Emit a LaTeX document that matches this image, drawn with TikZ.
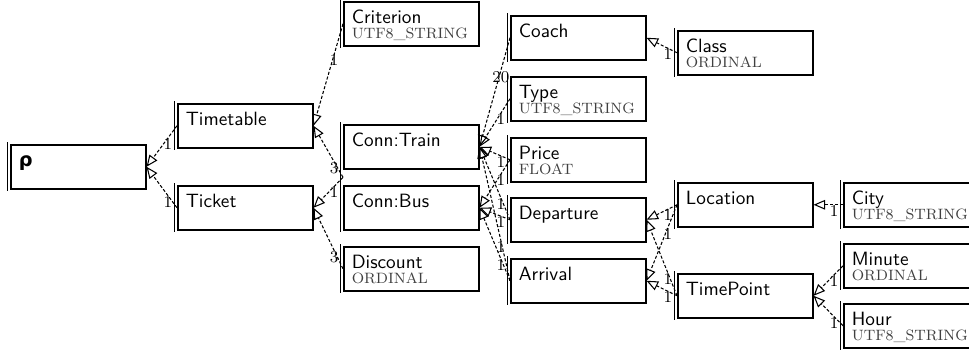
\documentclass[tikz,border=0pt]{standalone}
\usepackage{fontspec}
\newfontfamily\greekfont{DejaVu Sans}
\usetikzlibrary{arrows.meta, calc}

\definecolor{kindgray}{gray}{0.25}
\newcommand{\kind}[1]{\par\vskip-1.7pt{\fontsize{7.8}{9.5}\selectfont\rmfamily\color{kindgray}#1\par}}
\newcommand{\ent}[1]{\hspace*{4.2pt}\vbox to 22.88pt{\hsize=66pt\parindent=0pt\vskip3.04pt\strut#1\par\vfil}}

\begin{document}
\begin{tikzpicture}[x=0.52pt, y=-0.52pt,
        box/.style={draw, line width=0.8pt, inner sep=0pt, anchor=north west, font=\sffamily},
        bar/.style={line width=0.8pt},
        link/.style={line width=0.55pt, dash pattern=on 1.6pt off 1pt,
            -{Triangle[open, length=6pt, width=5pt]}},
        card/.style={pos=0.3, below, inner sep=0pt, font=\fontsize{8.6}{10}\selectfont}]
    \useasboundingbox (0,0) rectangle (969,355);

    \node[box] (rho)       at (10,144)  {\ent{{\greekfont\bfseries ρ}}};
    \node[box] (timetable) at (177,103) {\ent{Timetable}};
    \node[box] (ticket)    at (177,185) {\ent{Ticket}};
    \node[box] (criterion) at (343,1)   {\ent{Criterion\kind{UTF8\_STRING}}};
    \node[box] (train)     at (343,124) {\ent{Conn:Train}};
    \node[box] (bus)       at (343,185) {\ent{Conn:Bus}};
    \node[box] (discount)  at (343,246) {\ent{Discount\kind{ORDINAL}}};
    \node[box] (coach)     at (510,15)  {\ent{Coach}};
    \node[box] (type)      at (510,76)  {\ent{Type\kind{UTF8\_STRING}}};
    \node[box] (price)     at (510,137) {\ent{Price\kind{FLOAT}}};
    \node[box] (departure) at (510,197) {\ent{Departure}};
    \node[box] (arrival)   at (510,258) {\ent{Arrival}};
    \node[box] (class)     at (677,30)  {\ent{Class\kind{ORDINAL}}};
    \node[box] (location)  at (677,182) {\ent{Location}};
    \node[box] (timepoint) at (677,273) {\ent{TimePoint}};
    \node[box] (city)      at (843,182) {\ent{City\kind{UTF8\_STRING}}};
    \node[box] (minute)    at (843,243) {\ent{Minute\kind{ORDINAL}}};
    \node[box] (hour)      at (843,303) {\ent{Hour\kind{UTF8\_STRING}}};

    \foreach \n in {rho, timetable, ticket, criterion, discount, coach, type, price,
                    departure, arrival, class, location, timepoint, city, minute, hour}
        \draw[bar] ([xshift=-1.4pt, yshift=1pt]\n.north west) -- ([xshift=-1.4pt, yshift=-1pt]\n.south west);
    \draw[bar] ([xshift=-1.4pt, yshift=1pt]train.north west) -- ([xshift=-1.4pt, yshift=-1pt]bus.south west);
    \coordinate (conn) at ($(train.south west)!0.5!(bus.north west)$);

    \foreach \a/\b/\m in {timetable/rho/1, ticket/rho/1, criterion/timetable/1, discount/ticket/3,
                          coach/train/20, type/train/1, price/train/1, departure/train/1, arrival/train/1,
                          price/bus/1, departure/bus/1, arrival/bus/1, class/coach/1,
                          location/departure/1, location/arrival/1, timepoint/departure/1, timepoint/arrival/1,
                          city/location/1, minute/timepoint/1, hour/timepoint/1}
        \draw[link] (\a.west) -- node[card] {\m} (\b.east);
    \draw[link] (conn) -- node[card] {3} (timetable.east);
    \draw[link] (conn) -- node[card] {1} (ticket.east);
\end{tikzpicture}
\end{document}
